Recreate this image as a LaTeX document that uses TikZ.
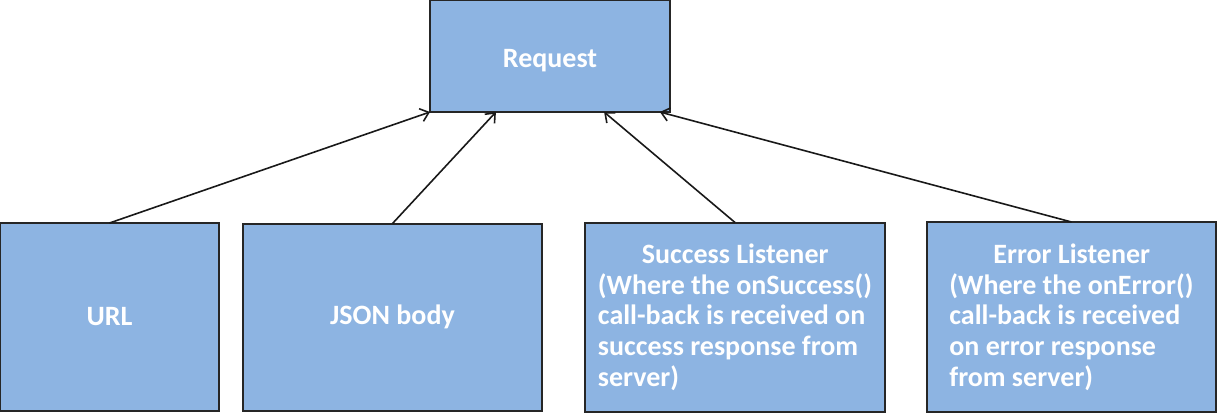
\documentclass[tikz,border=0pt]{standalone}
\usepackage{fontspec}
\setmainfont{Carlito}
\usepackage{tikz}
\usetikzlibrary{arrows.meta, positioning}
\usepackage{xcolor}
\definecolor{boxblue}{HTML}{8DB4E2}
\definecolor{boxline}{HTML}{262626}
\tikzset{
  block/.style={draw=boxline, line width=1.5pt, fill=boxblue, rectangle, text=white, outer sep=0pt,
    font=\fontsize{21}{23}\selectfont\bfseries},
  link/.style={draw=black!90, line width=1.2pt, -{Straight Barb[length=6pt, width=10pt]}}
}

\begin{document}
\begin{tikzpicture}[x=0.75pt, y=-0.75pt]
            \useasboundingbox (0,0) rectangle (1217,418);
            \node[block, anchor=north west, minimum width=180pt, minimum height=84pt,
                  text height=17pt, text depth=0pt] (request) at (430,0) {Request};
            \node[block, anchor=north west, minimum width=164.25pt, minimum height=141pt] (url) at (0,223) {URL};
            \node[block, right=18pt of url, minimum width=224.25pt, minimum height=140.25pt] (json) {JSON body};
            \node[block, right=32.25pt of json, minimum width=225pt, minimum height=141.75pt,
                  align=left] (success) {\hspace*{33pt}Success Listener\\(Where the onSuccess()\\call-back is received on\\success response from\\server)};
            \node[block, right=31.5pt of success, minimum width=216.75pt, minimum height=142.5pt,
                  align=left] (error) {\hspace*{33pt}Error Listener\\(Where the onError()\\call-back is received\\on error response\\from server)};
            \path [link] (url.north) -- (request.south west);
            \path [link] (json.north) -- (request.226);
            \path [link] (success.north) -- (request.314);
            \path [link] (error.north) -- (request.333);
        \end{tikzpicture}
\end{document}
